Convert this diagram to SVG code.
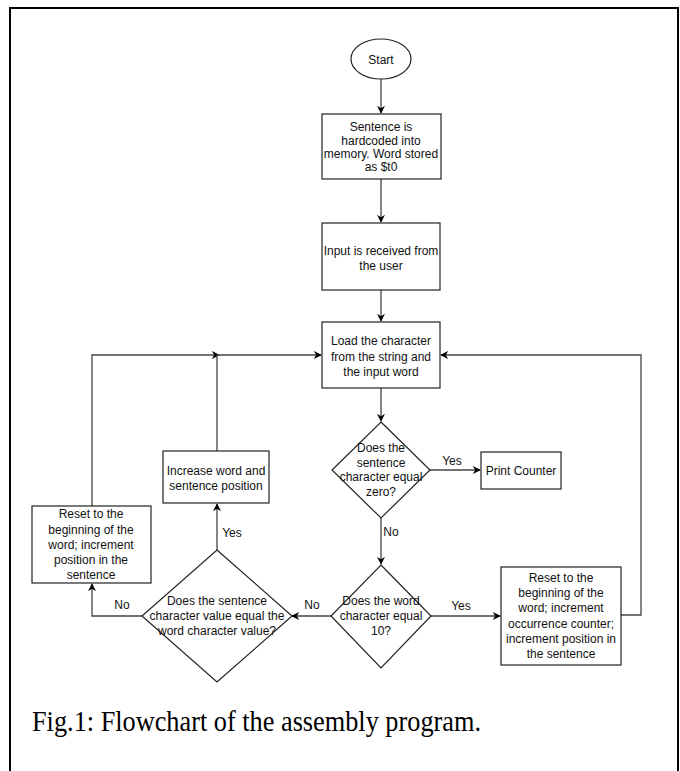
<svg xmlns="http://www.w3.org/2000/svg" width="680" height="771" viewBox="0 0 680 771">
<style>
.n{fill:#fff;stroke:#222;stroke-width:1.2}
.t{font-family:"Liberation Sans",Arial,sans-serif;font-size:12px;fill:#111;text-anchor:middle}
.c{fill:none;stroke:#444;stroke-width:1.3}
.cap{font-family:"Liberation Serif","Times New Roman",serif;font-size:29px;fill:#000}
</style>
<defs>
<marker id="a" viewBox="0 0 10 10" refX="9" refY="5" markerWidth="8" markerHeight="8" markerUnits="userSpaceOnUse" orient="auto">
<path d="M0,0 L10,5 L0,10 L3,5 Z" fill="#000"/>
</marker>
</defs>
<rect x="10" y="8" width="668" height="770" fill="#fff" stroke="#000" stroke-width="2"/>
<g id="connectors">
<line class="c" x1="381" y1="79" x2="381" y2="113" marker-end="url(#a)"/>
<line class="c" x1="381" y1="179" x2="381" y2="222" marker-end="url(#a)"/>
<line class="c" x1="381" y1="290" x2="381" y2="321" marker-end="url(#a)"/>
<line class="c" x1="381" y1="388" x2="381" y2="421" marker-end="url(#a)"/>
<line class="c" x1="430" y1="470" x2="480" y2="470" marker-end="url(#a)"/>
<line class="c" x1="381" y1="518" x2="381" y2="564" marker-end="url(#a)"/>
<line class="c" x1="331" y1="616" x2="292" y2="616" marker-end="url(#a)"/>
<line class="c" x1="431" y1="616" x2="500" y2="616" marker-end="url(#a)"/>
<polyline class="c" points="621,615 641,615 641,355 441,355" marker-end="url(#a)"/>
<line class="c" x1="217" y1="550" x2="217" y2="504" marker-end="url(#a)"/>
<polyline class="c" points="142,616 92,616 92,584" marker-end="url(#a)"/>
<polyline class="c" points="92,506 92,355 219,355" marker-end="url(#a)"/>
<polyline class="c" points="217,451 217,355 321,355" marker-end="url(#a)"/>
<text class="t" x="452" y="465">Yes</text>
<text class="t" x="391" y="536">No</text>
<text class="t" x="312" y="609">No</text>
<text class="t" x="122" y="609">No</text>
<text class="t" x="461" y="610">Yes</text>
<text class="t" x="232" y="537">Yes</text>
</g>
<g id="start">
<ellipse class="n" cx="381" cy="59" rx="30" ry="20"/>
<text class="t" x="381" y="64">Start</text>
</g>
<g id="hardcode">
<rect class="n" x="322" y="114" width="119" height="65"/>
<text class="t" x="381" y="131">Sentence is</text>
<text class="t" x="381" y="145">hardcoded into</text>
<text class="t" x="381" y="158">memory. Word stored</text>
<text class="t" x="381" y="171">as $t0</text>
</g>
<g id="input">
<rect class="n" x="322" y="223" width="118" height="67"/>
<text class="t" x="381" y="255">Input is received from</text>
<text class="t" x="381" y="270">the user</text>
</g>
<g id="load">
<rect class="n" x="322" y="322" width="118" height="66"/>
<text class="t" x="381" y="345">Load the character</text>
<text class="t" x="381" y="361">from the string and</text>
<text class="t" x="381" y="376">the input word</text>
</g>
<g id="zero">
<polygon class="n" points="381,422 430,470 381,518 332,470"/>
<text class="t" x="381" y="452">Does the</text>
<text class="t" x="381" y="467">sentence</text>
<text class="t" x="381" y="481">character equal</text>
<text class="t" x="381" y="496">zero?</text>
</g>
<g id="print">
<rect class="n" x="481" y="452" width="80" height="37"/>
<text class="t" x="521" y="475">Print Counter</text>
</g>
<g id="ten">
<polygon class="n" points="381,565 431,616 381,668 331,616"/>
<text class="t" x="381" y="605">Does the word</text>
<text class="t" x="381" y="620">character equal</text>
<text class="t" x="381" y="635">10?</text>
</g>
<g id="equal">
<polygon class="n" points="217,550 292,616 217,682 142,616"/>
<text class="t" x="217" y="605">Does the sentence</text>
<text class="t" x="217" y="620">character value equal the</text>
<text class="t" x="217" y="635">word character value?</text>
</g>
<g id="increase">
<rect class="n" x="163" y="451" width="106" height="52"/>
<text class="t" x="216" y="475">Increase word and</text>
<text class="t" x="216" y="490">sentence position</text>
</g>
<g id="resetleft">
<rect class="n" x="32" y="506" width="119" height="77"/>
<text class="t" x="91" y="518">Reset to the</text>
<text class="t" x="91" y="534">beginning of the</text>
<text class="t" x="91" y="549">word; increment</text>
<text class="t" x="91" y="564">position in the</text>
<text class="t" x="91" y="579">sentence</text>
</g>
<g id="resetright">
<rect class="n" x="501" y="567" width="120" height="98"/>
<text class="t" x="561" y="582">Reset to the</text>
<text class="t" x="561" y="597">beginning of the</text>
<text class="t" x="561" y="612">word; increment</text>
<text class="t" x="561" y="628">occurrence counter;</text>
<text class="t" x="561" y="643">increment position in</text>
<text class="t" x="561" y="658">the sentence</text>
</g>
<text class="cap" x="32" y="731" textLength="449" lengthAdjust="spacingAndGlyphs">Fig.1: Flowchart of the assembly program.</text>
</svg>
